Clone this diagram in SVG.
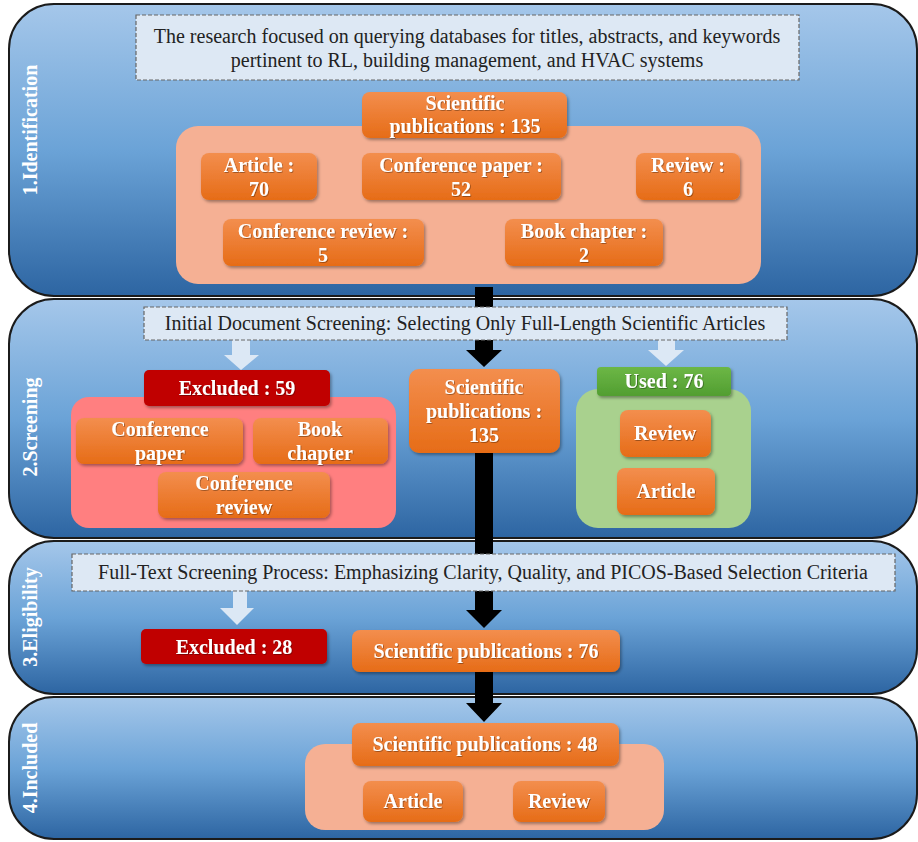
<svg xmlns="http://www.w3.org/2000/svg" width="918" height="842" viewBox="0 0 918 842">
<defs>
<linearGradient id="gPanel" x1="0" y1="0" x2="0" y2="1">
<stop offset="0" stop-color="#a5c7ea"/>
<stop offset="0.5" stop-color="#6ba3d7"/>
<stop offset="1" stop-color="#2d65a2"/>
</linearGradient>
<linearGradient id="gOrange" x1="0" y1="0" x2="0" y2="1">
<stop offset="0" stop-color="#f38e4e"/>
<stop offset="1" stop-color="#e66c17"/>
</linearGradient>
<linearGradient id="gGreen" x1="0" y1="0" x2="0" y2="1">
<stop offset="0" stop-color="#6cb746"/>
<stop offset="1" stop-color="#529e31"/>
</linearGradient>
<filter id="sh" x="-10%" y="-20%" width="125%" height="150%">
<feDropShadow dx="1.5" dy="2" stdDeviation="1.5" flood-color="#000" flood-opacity="0.35"/>
</filter>
<filter id="tsh" x="-5%" y="-20%" width="110%" height="150%">
<feDropShadow dx="0.8" dy="0.8" stdDeviation="0.5" flood-color="#000" flood-opacity="0.4"/>
</filter>
</defs>
<style>
.panel{fill:url(#gPanel);stroke:#1b1b1b;stroke-width:2}
.side{font-family:"Liberation Serif","Times New Roman",serif;font-weight:bold;font-size:20px;fill:#ffffff;text-anchor:middle}
.note{fill:#dde8f4;stroke:#666;stroke-width:1.2;stroke-dasharray:4 2}
.nt{font-family:"Liberation Serif","Times New Roman",serif;font-size:20px;fill:#222;text-anchor:middle}
.ob{fill:url(#gOrange);filter:url(#sh)}
.rb{fill:#c00000;filter:url(#sh)}
.gb{fill:url(#gGreen);filter:url(#sh)}
.bt{font-family:"Liberation Serif","Times New Roman",serif;font-weight:bold;font-size:20px;fill:#ffffff;text-anchor:middle;filter:url(#tsh)}
.salmon{fill:#f5b094}
.pink{fill:#ff7f80}
.green{fill:#a9d18e}
.blk{fill:#000}
.lt{fill:#dce8f5}
</style>

<g id="panels">
<rect id="panel1" class="panel" x="9" y="4" width="908" height="292" rx="45"/>
<rect id="panel2" class="panel" x="9" y="299" width="908" height="239" rx="45"/>
<rect id="panel3" class="panel" x="9" y="541" width="908" height="153" rx="45"/>
<rect id="panel4" class="panel" x="9" y="697" width="908" height="142" rx="45"/>
<text class="side" transform="translate(37,130) rotate(-90)">1.Identification</text>
<text class="side" transform="translate(37,427) rotate(-90)">2.Screening</text>
<text class="side" transform="translate(37,617) rotate(-90)">3.Eligibility</text>
<text class="side" transform="translate(37,768) rotate(-90)">4.Included</text>
</g>

<g id="connectors">
<polygon class="blk" points="475,287 493,287 493,350 502,350 484,367 466,350 475,350"/>
<polygon class="blk" points="475,450 493,450 493,610 502,610 484,628 466,610 475,610"/>
<polygon class="blk" points="475,670 493,670 493,703 502,703 484,722 466,703 475,703"/>
<polygon class="lt" points="232,340 250,340 250,355 259,355 241,370 224,355 232,355"/>
<polygon class="lt" points="658,340 675,340 675,350 684,350 666,366 648,350 658,350"/>
<polygon class="lt" points="233,591 247,591 247,608 254,608 237,625 220,608 233,608"/>
</g>

<g id="note1">
<rect class="note" x="136" y="15" width="663" height="65"/>
<text class="nt" x="467" y="43">The research focused on querying databases for titles, abstracts, and keywords</text>
<text class="nt" x="467" y="67">pertinent to RL, building management, and HVAC systems</text>
</g>
<g id="ident-container"><rect class="salmon" x="176" y="126" width="585" height="158" rx="22"/></g>
<g id="sci135a">
<rect class="ob" x="362" y="92" width="205" height="46" rx="8"/>
<text class="bt" x="465" y="110">Scientific</text>
<text class="bt" x="465" y="133">publications : 135</text>
</g>
<g id="article70">
<rect class="ob" x="201" y="153" width="116" height="47" rx="8"/>
<text class="bt" x="259" y="172">Article :</text>
<text class="bt" x="259" y="196">70</text>
</g>
<g id="confpaper52">
<rect class="ob" x="362" y="153" width="199" height="47" rx="8"/>
<text class="bt" x="461" y="172">Conference paper :</text>
<text class="bt" x="461" y="196">52</text>
</g>
<g id="review6">
<rect class="ob" x="636" y="153" width="104" height="47" rx="8"/>
<text class="bt" x="688" y="172">Review :</text>
<text class="bt" x="688" y="196">6</text>
</g>
<g id="confreview5">
<rect class="ob" x="223" y="219" width="201" height="47" rx="8"/>
<text class="bt" x="323" y="238">Conference review :</text>
<text class="bt" x="323" y="262">5</text>
</g>
<g id="bookchapter2">
<rect class="ob" x="505" y="219" width="158" height="47" rx="8"/>
<text class="bt" x="584" y="238">Book chapter :</text>
<text class="bt" x="584" y="262">2</text>
</g>

<g id="note2">
<rect class="note" x="144" y="307" width="643" height="33"/>
<text class="nt" x="465" y="330">Initial Document Screening: Selecting Only Full-Length Scientific Articles</text>
</g>
<g id="excl-container"><rect class="pink" x="71" y="397" width="325" height="131" rx="18"/></g>
<g id="excluded59">
<rect class="rb" x="144" y="370" width="186" height="36" rx="5"/>
<text class="bt" x="237" y="395">Excluded : 59</text>
</g>
<g id="confpaper">
<rect class="ob" x="76" y="418" width="167" height="46" rx="8"/>
<text class="bt" x="160" y="436">Conference</text>
<text class="bt" x="160" y="460">paper</text>
</g>
<g id="bookchapter">
<rect class="ob" x="253" y="418" width="135" height="46" rx="8"/>
<text class="bt" x="320" y="436">Book</text>
<text class="bt" x="320" y="460">chapter</text>
</g>
<g id="confreview">
<rect class="ob" x="158" y="472" width="172" height="46" rx="8"/>
<text class="bt" x="244" y="490">Conference</text>
<text class="bt" x="244" y="514">review</text>
</g>
<g id="sci135b">
<rect class="ob" x="409" y="369" width="151" height="84" rx="10"/>
<text class="bt" x="484" y="394">Scientific</text>
<text class="bt" x="484" y="418">publications :</text>
<text class="bt" x="484" y="442">135</text>
</g>
<g id="used-container"><rect class="green" x="576" y="389" width="175" height="139" rx="22"/></g>
<g id="used76">
<rect class="gb" x="597" y="367" width="134" height="29" rx="4"/>
<text class="bt" x="664" y="388">Used : 76</text>
</g>
<g id="usedreview">
<rect class="ob" x="620" y="410" width="91" height="47" rx="8"/>
<text class="bt" x="665" y="440">Review</text>
</g>
<g id="usedarticle">
<rect class="ob" x="617" y="468" width="98" height="47" rx="8"/>
<text class="bt" x="666" y="498">Article</text>
</g>

<g id="note3">
<rect class="note" x="72" y="554" width="823" height="37"/>
<text class="nt" x="483" y="579">Full-Text Screening Process: Emphasizing Clarity, Quality, and PICOS-Based Selection Criteria</text>
</g>
<g id="excluded28">
<rect class="rb" x="141" y="629" width="186" height="35" rx="5"/>
<text class="bt" x="234" y="654">Excluded : 28</text>
</g>
<g id="sci76">
<rect class="ob" x="352" y="630" width="268" height="42" rx="8"/>
<text class="bt" x="486" y="658">Scientific publications : 76</text>
</g>

<g id="incl-container"><rect class="salmon" x="305" y="744" width="359" height="86" rx="20"/></g>
<g id="sci48">
<rect class="ob" x="352" y="723" width="267" height="43" rx="8"/>
<text class="bt" x="485" y="751">Scientific publications : 48</text>
</g>
<g id="inclarticle">
<rect class="ob" x="363" y="781" width="100" height="41" rx="8"/>
<text class="bt" x="413" y="808">Article</text>
</g>
<g id="inclreview">
<rect class="ob" x="513" y="781" width="92" height="41" rx="8"/>
<text class="bt" x="559" y="808">Review</text>
</g>
</svg>
